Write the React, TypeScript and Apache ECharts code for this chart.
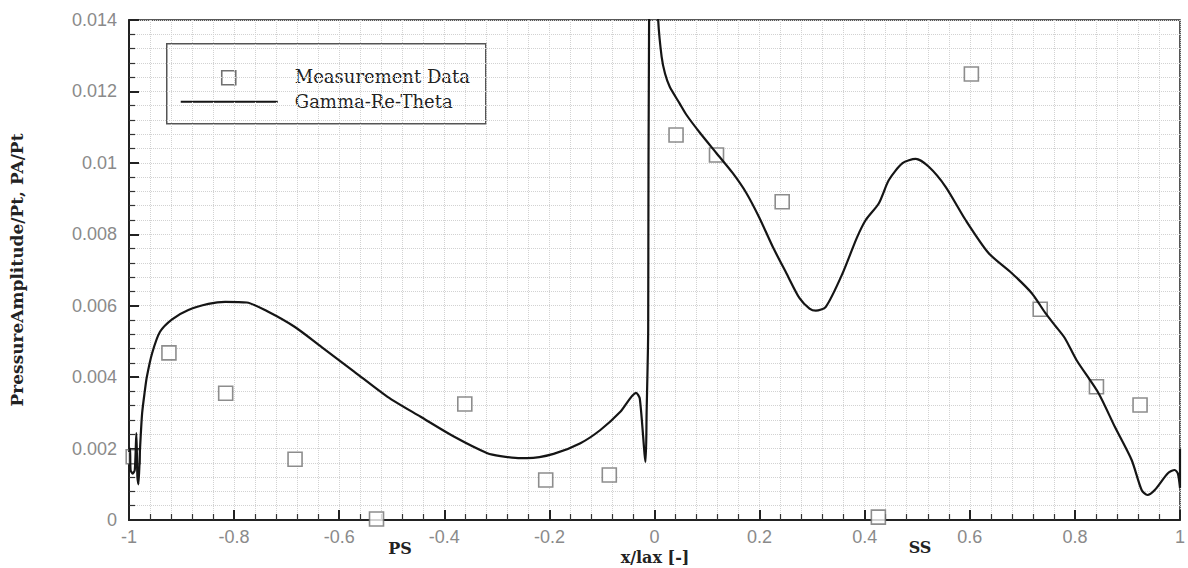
import React, { useEffect, useRef } from "react";
import * as echarts from "echarts";

const measX = [-0.992, -0.924, -0.816, -0.684, -0.529, -0.361, -0.207, -0.086, 0.041, 0.118, 0.243, 0.426, 0.603, 0.734, 0.841, 0.924];
const measY = [0.00177, 0.00468, 0.00355, 0.0017, 0.00003, 0.00325, 0.00112, 0.00126, 0.01078, 0.01022, 0.00891, 0.00008, 0.01249, 0.0059, 0.00373, 0.00322];

const cfdX = [
  -1.0, -0.998, -0.997, -0.993, -0.989, -0.986, -0.984, -0.982, -0.979, -0.975, -0.97, -0.966, -0.956, -0.941, -0.918, -0.887,
  -0.849, -0.817, -0.776, -0.735, -0.685, -0.634, -0.571, -0.508, -0.445, -0.381, -0.318, -0.293, -0.255, -0.242, -0.192,
  -0.141, -0.103, -0.065, -0.035, -0.028, -0.017, -0.015, -0.012, -0.01, -0.002, 0.006, 0.007, 0.0136, 0.02, 0.029, 0.048,
  0.061, 0.086, 0.118, 0.149, 0.175, 0.2, 0.225, 0.251, 0.276, 0.295, 0.307, 0.326, 0.358, 0.385, 0.402, 0.427, 0.446, 0.472,
  0.497, 0.522, 0.554, 0.592, 0.636, 0.68, 0.718, 0.744, 0.762, 0.781, 0.803, 0.845, 0.876, 0.908, 0.927, 0.938, 0.952, 0.977,
  0.99, 0.996, 1.0, 1.0, 1.0,
];
const cfdY = [
  0.0019, 0.002, 0.0014, 0.0013, 0.0014, 0.00243, 0.0012, 0.001, 0.002, 0.00299, 0.0036, 0.00401, 0.00467, 0.00527, 0.00562, 0.00588,
  0.00605, 0.00611, 0.00609, 0.00583, 0.00541, 0.00485, 0.00415, 0.00345, 0.00289, 0.00233, 0.00187, 0.00179, 0.00173, 0.00173, 0.00185,
  0.00215, 0.00252, 0.00303, 0.00356, 0.0034, 0.00163, 0.003, 0.00532, 0.015, 0.017, 0.015, 0.014, 0.01297, 0.0125, 0.01213, 0.01166,
  0.01134, 0.01085, 0.01027, 0.00971, 0.00915, 0.00845, 0.00765, 0.00691, 0.00621, 0.00592, 0.00586, 0.00597, 0.00691, 0.0079, 0.0084, 0.00887, 0.00952, 0.00999,
  0.01011, 0.00989, 0.00933, 0.0084, 0.00747, 0.00691, 0.00635, 0.00579, 0.00545, 0.00509, 0.00448, 0.00355, 0.00261, 0.00168, 0.00084, 0.0007, 0.00084, 0.00131,
  0.0014, 0.0013, 0.0009, 0.002, 0.0012,
];

const xTicks = { min: -1, max: 1, interval: 0.2 };
const yTicks = { min: 0, max: 0.014, interval: 0.002 };
const seriesNames = ["Measurement Data", "Gamma-Re-Theta"];
const xTitle = "x/lax [-]";
const yTitle = "PressureAmplitude/Pt, PA/Pt";
const sideLabels = ["PS", "SS"];

export default function App() {
  const ref = useRef<HTMLDivElement>(null);
  useEffect(() => {
    if (!ref.current) return;
    const chart = echarts.init(ref.current, null, { renderer: "svg" });
    const serif = "DejaVu Serif";
    const gridColor = "#d2d2d2";
    const labelStyle = { fontFamily: "Liberation Sans", fontSize: 18, color: "#8a8a8a" };
    chart.setOption({
      animation: false,
      backgroundColor: "#fff",
      grid: { left: 127, right: 6, top: 20, bottom: 48, show: true, borderColor: "#222", borderWidth: 1.5, backgroundColor: "transparent" },
      xAxis: {
        type: "value",
        ...xTicks,
        axisLine: { show: true, onZero: false, lineStyle: { color: "#222", width: 2 } },
        axisTick: { show: true, inside: true, length: 10, lineStyle: { color: "#222", width: 2 } },
        minorTick: { show: true, splitNumber: 5, length: 6, lineStyle: { color: "#333", width: 1.2 } },
        splitLine: { show: true, lineStyle: { color: gridColor, type: "dotted", width: 1 } },
        minorSplitLine: { show: true, lineStyle: { color: gridColor, type: "dotted", width: 1 } },
        axisLabel: { ...labelStyle, margin: 8, formatter: (v: number) => String(+v.toFixed(1)) },
      },
      yAxis: {
        type: "value",
        ...yTicks,
        name: yTitle,
        nameLocation: "middle",
        nameRotate: 90,
        nameGap: 104,
        nameTextStyle: { fontFamily: serif, fontSize: 17, fontWeight: "bold", color: "#222" },
        axisLine: { show: true, onZero: false, lineStyle: { color: "#222", width: 2 } },
        axisTick: { show: true, inside: true, length: 10, lineStyle: { color: "#222", width: 2 } },
        minorTick: { show: true, splitNumber: 5, length: 6, lineStyle: { color: "#333", width: 1.2 } },
        splitLine: { show: true, lineStyle: { color: gridColor, type: "dotted", width: 1 } },
        minorSplitLine: { show: true, lineStyle: { color: gridColor, type: "dotted", width: 1 } },
        axisLabel: { ...labelStyle, margin: 12, formatter: (v: number) => String(+v.toFixed(3)) },
      },
      series: [
        {
          name: seriesNames[0],
          type: "scatter",
          symbol: "rect",
          symbolSize: 14,
          itemStyle: { color: "#fff", borderColor: "#707070", borderWidth: 1.6 },
          data: measX.map((x, i) => [x, measY[i]]),
          z: 2,
        },
        {
          name: seriesNames[1],
          type: "line",
          showSymbol: false,
          symbol: "none",
          smooth: 0.25,
          clip: true,
          lineStyle: { color: "#151515", width: 2.2 },
          data: cfdX.map((x, i) => [x, cfdY[i]]),
          z: 3,
        },
      ],
      graphic: [
        {
          type: "group",
          left: 166,
          top: 43,
          z: 100,
          children: [
            { type: "rect", shape: { x: 0, y: 0, width: 319, height: 80 }, style: { fill: "#fff", stroke: "#555", lineWidth: 1.5 } },
            { type: "rect", shape: { x: 55, y: 27, width: 14, height: 14 }, style: { fill: "#fff", stroke: "#707070", lineWidth: 1.6 } },
            { type: "line", shape: { x1: 14, y1: 58, x2: 111, y2: 58 }, style: { stroke: "#151515", lineWidth: 2.2 } },
            { type: "text", x: 128, y: 33, style: { text: seriesNames[0], fontFamily: serif, fontSize: 18, fill: "#222", verticalAlign: "middle" } },
            { type: "text", x: 128, y: 58, style: { text: seriesNames[1], fontFamily: serif, fontSize: 18, fill: "#222", verticalAlign: "middle" } },
          ],
        },
        { type: "text", x: 400, y: 548, style: { text: sideLabels[0], fontFamily: serif, fontSize: 16, fontWeight: "bold", fill: "#222", align: "center", verticalAlign: "middle" } },
        { type: "text", x: 920, y: 547, style: { text: sideLabels[1], fontFamily: serif, fontSize: 16, fontWeight: "bold", fill: "#222", align: "center", verticalAlign: "middle" } },
        { type: "text", x: 655, y: 557, style: { text: xTitle, fontFamily: serif, fontSize: 16, fontWeight: "bold", fill: "#222", align: "center", verticalAlign: "middle" } },
      ],
    });
    return () => chart.dispose();
  }, []);
  return <div ref={ref} style={{ position: "absolute", left: 0, top: 0, width: 1188, height: 568 }} />;
}
